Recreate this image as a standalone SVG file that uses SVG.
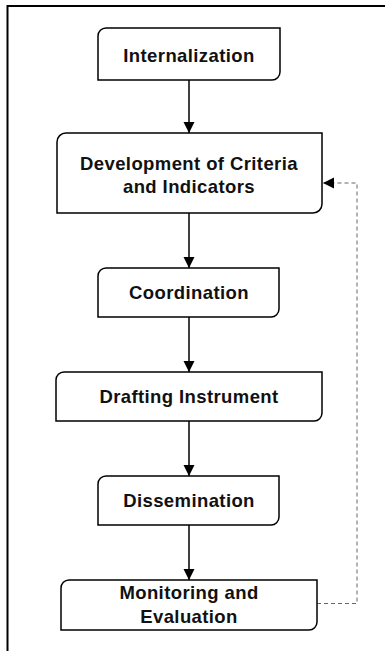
<svg xmlns="http://www.w3.org/2000/svg" width="386" height="651" viewBox="0 0 386 651">
<defs>
<style>
.box{fill:#fff;stroke:#000;stroke-width:1.5}
.t{font-family:"Liberation Sans",Arial,sans-serif;font-weight:bold;font-size:18.5px;letter-spacing:0.4px;text-anchor:middle;fill:#111}
.c{fill:none;stroke:#000;stroke-width:1.5}
.d{fill:none;stroke:#666;stroke-width:1;stroke-dasharray:4 3}
</style>
<marker id="ah" markerUnits="userSpaceOnUse" markerWidth="12" markerHeight="12" viewBox="0 0 12 12" refX="11" refY="6" orient="auto">
<path d="M0,0.5 L11,6 L0,11.5 Z" fill="#000"/>
</marker>
</defs>
<rect width="386" height="651" fill="#fff"/>
<path d="M7.5,651 V6 H385" fill="none" stroke="#000" stroke-width="2"/>
<g id="connectors">
<path class="c" d="M189,80 V133" marker-end="url(#ah)"/>
<path class="c" d="M189,213 V268" marker-end="url(#ah)"/>
<path class="c" d="M189,317 V372" marker-end="url(#ah)"/>
<path class="c" d="M189,421 V476" marker-end="url(#ah)"/>
<path class="c" d="M189,525 V580" marker-end="url(#ah)"/>
<path class="d" d="M317,603.5 H357 V183 H323" marker-end="url(#ah)"/>
</g>
<g id="n1">
<path class="box" d="M106,28 H280 V72 A8,8 0 0 1 272,80 H98 V36 A8,8 0 0 1 106,28 Z"/>
<text class="t" x="189" y="61.5">Internalization</text>
</g>
<g id="n2">
<path class="box" d="M66,133 H322 V204 A9,9 0 0 1 313,213 H57 V142 A9,9 0 0 1 66,133 Z"/>
<text class="t" x="189" y="170">Development of Criteria</text>
<text class="t" x="189" y="193">and Indicators</text>
</g>
<g id="n3">
<path class="box" d="M106,268 H279 V309 A8,8 0 0 1 271,317 H98 V276 A8,8 0 0 1 106,268 Z"/>
<text class="t" x="189" y="299">Coordination</text>
</g>
<g id="n4">
<path class="box" d="M64,372 H322 V413 A8,8 0 0 1 314,421 H56 V380 A8,8 0 0 1 64,372 Z"/>
<text class="t" x="189" y="402.5">Drafting Instrument</text>
</g>
<g id="n5">
<path class="box" d="M106,476 H279 V517 A8,8 0 0 1 271,525 H98 V484 A8,8 0 0 1 106,476 Z"/>
<text class="t" x="189" y="507">Dissemination</text>
</g>
<g id="n6">
<path class="box" d="M69,580 H317 V622 A8,8 0 0 1 309,630 H61 V588 A8,8 0 0 1 69,580 Z"/>
<text class="t" x="189" y="599">Monitoring and</text>
<text class="t" x="189" y="622.5">Evaluation</text>
</g>
</svg>
